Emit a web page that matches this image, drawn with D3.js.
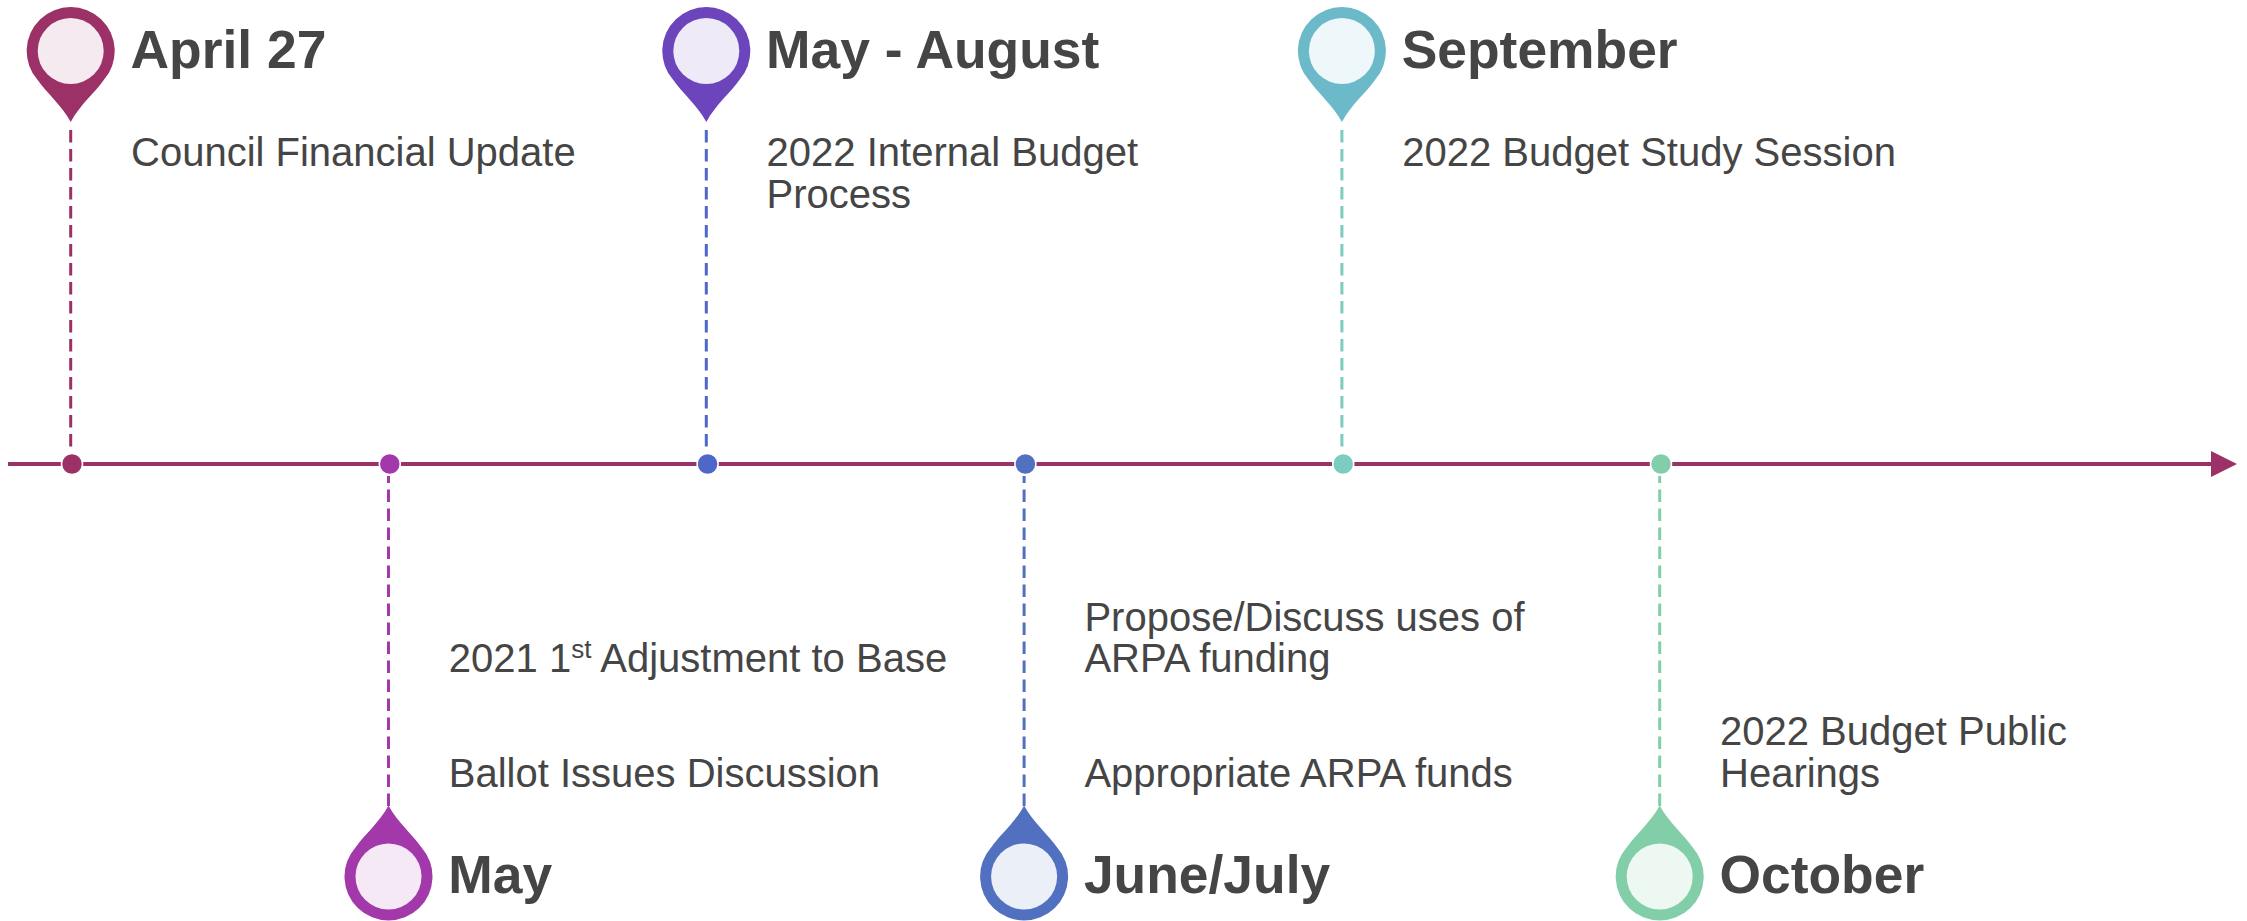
<!DOCTYPE html>
<html>
<head>
<meta charset="utf-8">
<script src="https://cdn.jsdelivr.net/npm/d3@7"></script>
<style>
html, body { margin: 0; padding: 0; background: #fff; overflow: hidden; }
text { font-family: "Liberation Sans", Arial, sans-serif; fill: #454545; }
</style>
</head>
<body>
<div id="chart"></div>
<script>
// timeline content
const titles = ["April 27", "May", "May - August", "June/July", "September", "October"];
const sides = ["top", "bottom", "top", "bottom", "top", "bottom"];
const pinColors = ["#9B3167", "#A238A9", "#6C44BB", "#5270C0", "#6BB9C9", "#81CEA8"];
const stemColors = ["#9B3167", "#A238A9", "#4E67C8", "#5270C0", "#7CCCBF", "#81CEA8"];
const pinTints = ["#F5EAF0", "#F5E9F6", "#EEEAF8", "#EBEFF8", "#EEF7F9", "#EEF8F3"];
const descriptions = [
    [["Council Financial Update"]],
    [["2021 1", "st", " Adjustment to Base"], ["Ballot Issues Discussion"]],
    [["2022 Internal Budget"], ["Process"]],
    [["Propose/Discuss uses of"], ["ARPA funding"], ["Appropriate ARPA funds"]],
    [["2022 Budget Study Session"]],
    [["2022 Budget Public"], ["Hearings"]]
];
// baselines of the description lines, per milestone
const lineBaselines = [
    [166],
    [672, 787],
    [166, 208],
    [631, 672, 787],
    [166],
    [745, 787]
];

const width = 2247, height = 921;
const axisY = 464;

const svg = d3.select("#chart").append("svg")
    .attr("width", width)
    .attr("height", height)
    .attr("viewBox", `0 0 ${width} ${height}`);

const x = d3.scalePoint()
    .domain(titles)
    .range([72, 1661]);

// main line + arrow
svg.append("line")
    .attr("x1", 8)
    .attr("x2", 2212)
    .attr("y1", axisY)
    .attr("y2", axisY)
    .attr("stroke", pinColors[0])
    .attr("stroke-width", 4);

svg.append("path")
    .attr("d", `M2211 ${axisY - 13}L2237 ${axisY}L2211 ${axisY + 13}Z`)
    .attr("fill", pinColors[0]);

const milestones = titles.map((t, i) => ({
    title: t,
    side: sides[i],
    color: pinColors[i],
    stem: stemColors[i],
    tint: pinTints[i],
    lines: descriptions[i],
    baselines: lineBaselines[i]
}));

// pin outline, circle centre at 0,0 and tip pointing down
function pinPath() {
    const p = d3.path();
    p.moveTo(0, 71);
    p.bezierCurveTo(-9, 54, -25, 41, -33, 29);
    p.arc(0, 0, 44, Math.atan2(29, -33), Math.atan2(29, 33));
    p.bezierCurveTo(25, 41, 9, 54, 0, 71);
    p.closePath();
    return p.toString();
}

const groups = svg.selectAll(".milestone")
    .data(milestones)
    .enter()
    .append("g")
    .attr("class", "milestone");

// dashed stems
groups.append("line")
    .attr("x1", d => x(d.title) - 1.3)
    .attr("x2", d => x(d.title) - 1.3)
    .attr("y1", d => d.side === "top" ? 130 : 806)
    .attr("y2", d => d.side === "top" ? 452 : 476)
    .attr("stroke", d => d.stem)
    .attr("stroke-width", 3)
    .attr("stroke-dasharray", "12.5 6.5");

// dots on the line
groups.append("circle")
    .attr("cx", d => x(d.title))
    .attr("cy", axisY)
    .attr("r", 10.5)
    .attr("fill", d => d.stem)
    .attr("stroke", "#fff")
    .attr("stroke-width", 1.5);

// pins
const pins = groups.append("g")
    .attr("transform", d => d.side === "top"
        ? `translate(${x(d.title) - 1.3},51)`
        : `translate(${x(d.title) - 1.3},876.5) scale(1,-1)`);

pins.append("path")
    .attr("d", pinPath())
    .attr("fill", d => d.color);

pins.append("circle")
    .attr("r", 33)
    .attr("fill", d => d.tint);

// titles
groups.append("text")
    .attr("x", d => x(d.title) + 58.5)
    .attr("y", d => d.side === "top" ? 68 : 893)
    .attr("font-size", 53.4)
    .attr("font-weight", "bold")
    .text(d => d.title);

// description lines
groups.each(function(d) {
    const g = d3.select(this);
    d.lines.forEach((parts, i) => {
        const t = g.append("text")
            .attr("x", x(d.title) + 59)
            .attr("y", d.baselines[i])
            .attr("font-size", 40);
        parts.forEach((s, j) => {
            const sup = parts.length > 1 && j === 1;
            t.append("tspan")
                .attr("dy", sup ? -14 : (j > 1 ? 14 : 0))
                .attr("font-size", sup ? 26 : 40)
                .text(s);
        });
    });
});
</script>
</body>
</html>
